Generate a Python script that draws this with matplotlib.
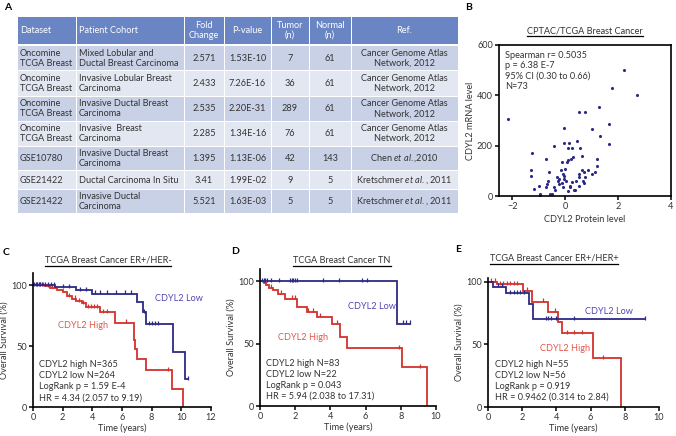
import matplotlib
matplotlib.use("Agg")
import matplotlib.pyplot as plt
import numpy as np

plt.rcParams["font.family"] = ["Lato", "DejaVu Sans"]
plt.rcParams["mathtext.fontset"] = "custom"
plt.rcParams["mathtext.rm"] = "Lato"
plt.rcParams["mathtext.it"] = "Lato:italic"

FS = 6.55
TXT = "#333333"
NAVY = "#2d2a86"
RED = "#d3322c"
LOW_TXT = "#5146b0"
HIGH_TXT = "#e2554a"

# ---- table A ----
headers = ["Dataset", "Patient Cohort", "Fold\nChange", "P-value", "Tumor\n(n)", "Normal\n(n)", "Ref."]
datasets = ["Oncomine\nTCGA Breast", "Oncomine\nTCGA Breast", "Oncomine\nTCGA Breast",
            "Oncomine\nTCGA Breast", "GSE10780", "GSE21422", "GSE21422"]
cohorts = ["Mixed Lobular and\nDuctal Breast Carcinoma", "Invasive Lobular Breast\nCarcinoma",
           "Invasive Ductal Breast\nCarcinoma", "Invasive  Breast\nCarcinoma",
           "Invasive Ductal Breast\nCarcinoma", "Ductal Carcinoma In Situ",
           "Invasive Ductal\nCarcinoma"]
fold = ["2.571", "2.433", "2.535", "2.285", "1.395", "3.41", "5.521"]
pvals = ["1.53E-10", "7.26E-16", "2.20E-31", "1.34E-16", "1.13E-06", "1.99E-02", "1.63E-03"]
tumor = ["7", "36", "289", "76", "42", "9", "5"]
normal = ["61", "61", "61", "61", "143", "5", "5"]
refs = ["Cancer Genome Atlas\nNetwork, 2012", "Cancer Genome Atlas\nNetwork, 2012",
        "Cancer Genome Atlas\nNetwork, 2012", "Cancer Genome Atlas\nNetwork, 2012",
        r"Chen $\mathit{et\ al.}$,2010", r"Kretschmer $\mathit{et\ al.}$, 2011",
        r"Kretschmer $\mathit{et\ al.}$, 2011"]

# ---- scatter B ----
protein = [-2.15, 2.22, 1.76, 2.70, 0.54, 0.75, 1.28, -0.03, 1.00, 1.65, 1.30, 1.65,
           -1.24, -0.41, -0.04, 0.16, 0.43, 0.11, 0.24, 0.57, 0.65, 0.29, 0.22, 0.09,
           0.06, -0.13, -0.71, -0.16, -0.01, 1.20, 1.20, 0.87, 1.13, 1.00, 0.63, 0.71,
           0.54, 0.53, 0.42, 0.66, 0.72, -0.62, -1.29, -1.29, -0.29, -0.22, -0.28, -0.06,
           -0.03, 0.03, -0.13, -0.08, 0.25, 0.20, 0.34, 0.39, -0.67, -0.73, -0.44, -0.97,
           -1.19, -0.94, -0.96, -0.56, -0.49, -0.38, 0.09, -0.63, 0.76, -0.09, -0.25,
           0.18, 0.51]
mrna = [306, 502, 430, 402, 333, 333, 355, 271, 267, 286, 239, 206, 169, 200, 209, 212,
        219, 189, 189, 189, 158, 154, 148, 142, 136, 136, 147, 103, 109, 147, 121, 103,
        94, 88, 103, 94, 89, 76, 61, 58, 50, 97, 105, 78, 74, 67, 61, 81, 67, 61, 51, 36,
        54, 34, 24, 24, 47, 36, 34, 39, 28, 7, 3, 9, 9, 23, 20, 61, 74, 88, 47, 40, 38]

# ---- KM curves (step times / survival %) ----
c_low_t = [0, 1.5, 2.9, 4.0, 7.0, 7.4, 7.6, 9.45, 10.25, 10.45]
c_low_s = [100, 98.5, 96, 93, 86, 78, 68, 45, 23, 23]
c_high_t = [0, 0.8, 1.15, 1.6, 2.0, 2.3, 2.6, 2.9, 3.3, 3.6, 4.5, 5.5, 6.8, 6.9, 7.0, 7.6, 9.35, 10.1]
c_high_s = [100, 99, 98, 96, 94, 91, 89, 87, 85, 82, 78, 69, 55, 48, 39, 30, 15, 0]
c_low_cens = [0.1, 0.2, 0.3, 0.4, 0.5, 0.6, 0.8, 1.0, 1.2, 1.4, 2.0, 2.4, 3.2, 3.6, 4.2,
              4.5, 5.0, 5.6, 6.2, 6.6, 7.5, 7.8, 8.0, 8.2, 8.4, 10.45]
c_high_cens = [0.3, 0.5, 0.7, 1.0, 1.3, 2.4, 2.8, 3.1, 3.4, 3.7, 3.9, 4.1, 4.3, 4.7,
               5.0, 6.3, 9.1]

d_low_t = [0, 7.8, 8.5]
d_low_s = [100, 66, 66]
d_high_t = [0, 0.2, 0.35, 0.5, 0.76, 1.0, 1.42, 2.08, 2.65, 3.22, 4.07, 4.55, 4.92, 8.05, 9.47]
d_high_s = [100, 99, 97, 95, 93, 90, 86, 79.5, 75.5, 71.5, 66, 55.5, 46.5, 31, 0]
d_low_cens = [0.1, 0.2, 0.3, 0.4, 0.6, 1.1, 1.7, 1.8, 1.9, 2.0, 2.1, 3.6, 4.5, 5.8, 6.1, 8.1, 8.3, 8.5]
d_high_cens = [0.3, 0.6, 1.2, 1.8, 2.0, 2.7, 3.0, 3.4, 4.4, 7.9, 9.1]

e_low_t = [0, 0.3, 1.05, 2.42, 2.62, 9.2]
e_low_s = [100, 96, 91, 82, 70, 70]
e_high_t = [0, 0.5, 2.07, 2.55, 3.53, 4.1, 4.3, 6.16, 7.76]
e_high_s = [100, 98, 93, 84, 76, 68, 59, 39, 0]
e_low_cens = [0.6, 0.8, 1.3, 1.5, 1.7, 1.9, 2.1, 3.4, 3.5, 3.7, 4.0, 5.0, 9.2]
e_high_cens = [0.2, 0.4, 0.7, 0.9, 1.1, 1.3, 1.5, 1.7, 2.3, 3.2, 3.9, 4.6, 5.0, 5.5, 6.7]

W, H = 676, 436
fig = plt.figure(figsize=(W / 100, H / 100), dpi=100)
bg = fig.add_axes([0, 0, 1, 1])
bg.set_xlim(0, W)
bg.set_ylim(H, 0)
bg.axis("off")


def px_axes(left, top, right, bottom):
    return fig.add_axes([left / W, 1 - bottom / H, (right - left) / W, (bottom - top) / H])


# ---- draw table ----
col_edges = [17, 76, 184, 224, 271, 309, 351, 458]
row_edges = [(17, 44), (46.5, 70), (71, 96), (97, 120.5), (121.5, 145.5), (146.5, 170), (171, 189), (190, 213)]
columns = [datasets, cohorts, fold, pvals, tumor, normal, refs]
HEAD = "#6985c4"
DARK = "#c8d1e6"
LIGHT = "#e3e7f1"
for r, (y0, y1) in enumerate(row_edges):
    color = HEAD if r == 0 else (DARK if r % 2 == 1 else LIGHT)
    for c in range(7):
        x0, x1 = col_edges[c] + 0.5, col_edges[c + 1] - 0.5
        bg.add_patch(plt.Rectangle((x0, y0), x1 - x0, y1 - y0, facecolor=color, edgecolor="none"))
        if r == 0:
            txt, tc = headers[c], "white"
        else:
            txt, tc = columns[c][r - 1], TXT
        if c < 2:
            bg.text(x0 + 2.5, (y0 + y1) / 2, txt, ha="left", va="center", fontsize=FS,
                    color=tc, linespacing=1.15)
        else:
            bg.text((x0 + x1) / 2, (y0 + y1) / 2, txt, ha="center", va="center", fontsize=FS,
                    color=tc, linespacing=1.15, multialignment="center")

# ---- panel labels ----
for lab, x, y in [("A", 4, 7), ("B", 465, 7), ("C", 3, 252), ("D", 231, 251), ("E", 455, 249)]:
    bg.text(x, y, lab, fontsize=7.5, fontweight="bold", ha="left", va="center", color="black")

underline_jobs = []


def style_axes(ax):
    for s in ["left", "bottom"]:
        ax.spines[s].set_linewidth(1.2)
    ax.tick_params(direction="out", length=3, width=1.1, labelsize=FS, pad=1.5, colors="black")
    for lbl in ax.get_xticklabels() + ax.get_yticklabels():
        lbl.set_color(TXT)


# ---- scatter B ----
axb = px_axes(499, 45, 671, 196)
axb.scatter(protein, mrna, s=5, color=NAVY, linewidths=0)
axb.set_xlim(-2.5, 4)
axb.set_ylim(0, 600)
axb.set_xticks([-2, 0, 2, 4])
axb.set_yticks([0, 200, 400, 600])
style_axes(axb)
for s in ["top", "right"]:
    axb.spines[s].set_linewidth(1.2)
axb.set_xlabel("CDYL2 Protein level", fontsize=FS, color=TXT, labelpad=3)
axb.set_ylabel("CDYL2 mRNA level", fontsize=FS, color=TXT, labelpad=1)
axb.text(0.035, 0.96, "Spearman r= 0.5035\np = 6.38 E-7\n95% CI (0.30 to 0.66)\nN=73",
         transform=axb.transAxes, fontsize=FS, color=TXT, va="top", ha="left", linespacing=1.2)
underline_jobs.append(bg.text(585, 31, "CPTAC/TCGA Breast Cancer", fontsize=FS, color=TXT,
                              ha="center", va="center"))


def km_panel(box, xmax, ytop, title, title_xy, low, high, low_lab, high_lab, stats, stat_xy):
    ax = px_axes(*box)
    for t, s, cens, col in [(high[0], high[1], high[2], RED), (low[0], low[1], low[2], NAVY)]:
        ax.step(t, s, where="post", color=col, lw=1.3, solid_joinstyle="miter")
        t_arr = np.asarray(t)
        s_arr = np.asarray(s)
        idx = np.searchsorted(t_arr, cens, side="right") - 1
        ax.plot(cens, s_arr[idx] + 1.2, linestyle="none", marker="|", markersize=3,
                markeredgewidth=0.9, color=col)
    ax.set_xlim(0, xmax)
    ax.set_ylim(0, ytop)
    ax.set_xticks(np.arange(0, xmax + 1, 2))
    ax.set_yticks([0, 50, 100])
    ax.spines["top"].set_visible(False)
    ax.spines["right"].set_visible(False)
    style_axes(ax)
    ax.set_xlabel("Time (years)", fontsize=FS, color=TXT, labelpad=1)
    ax.set_ylabel("Overall Survival (%)", fontsize=FS, color=TXT, labelpad=1.5)
    ax.text(low_lab[0], low_lab[1], "CDYL2 Low", fontsize=FS, color=LOW_TXT, va="center")
    ax.text(high_lab[0], high_lab[1], "CDYL2 High", fontsize=FS, color=HIGH_TXT, va="center")
    ax.text(stat_xy[0], stat_xy[1], stats, fontsize=FS, color=TXT, va="center", ha="left",
            linespacing=1.3)
    underline_jobs.append(bg.text(title_xy[0], title_xy[1], title, fontsize=FS, color=TXT,
                                  ha="center", va="center"))
    return ax


km_panel((33, 273, 211, 407), 12, 110, "TCGA Breast Cancer ER+/HER-", (108, 260),
         (c_low_t, c_low_s, c_low_cens), (c_high_t, c_high_s, c_high_cens),
         (8.2, 89), (1.7, 67),
         "CDYL2 high N=365\nCDYL2 low N=264\nLogRank p = 1.59 E-4\nHR = 4.34 (2.057 to 9.19)",
         (0.4, 21))
km_panel((260, 269, 436, 406), 10, 110, "TCGA Breast Cancer TN", (342, 260),
         (d_low_t, d_low_s, d_low_cens), (d_high_t, d_high_s, d_high_cens),
         (5.0, 80), (1.0, 55),
         "CDYL2 high N=83\nCDYL2 low N=22\nLogRank p = 0.043\nHR = 5.94 (2.038 to 17.31)",
         (0.32, 21))
km_panel((488, 278, 659, 407), 10, 103, "TCGA Breast Cancer ER+/HER+", (554, 258),
         (e_low_t, e_low_s, e_low_cens), (e_high_t, e_high_s, e_high_cens),
         (5.7, 76), (3.05, 47),
         "CDYL2 high N=55\nCDYL2 low N=56\nLogRank p = 0.919\nHR = 0.9462 (0.314 to 2.84)",
         (0.4, 21))

# underline the titles
fig.canvas.draw()
inv = bg.transData.inverted()
for t in underline_jobs:
    bb = t.get_window_extent()
    (x0, y0), (x1, y1) = inv.transform([(bb.x0, bb.y0), (bb.x1, bb.y1)])
    bg.plot([x0, x1], [y0 + 1.0, y0 + 1.0], color="black", lw=0.9)

fig.savefig("out.png", dpi=100)
